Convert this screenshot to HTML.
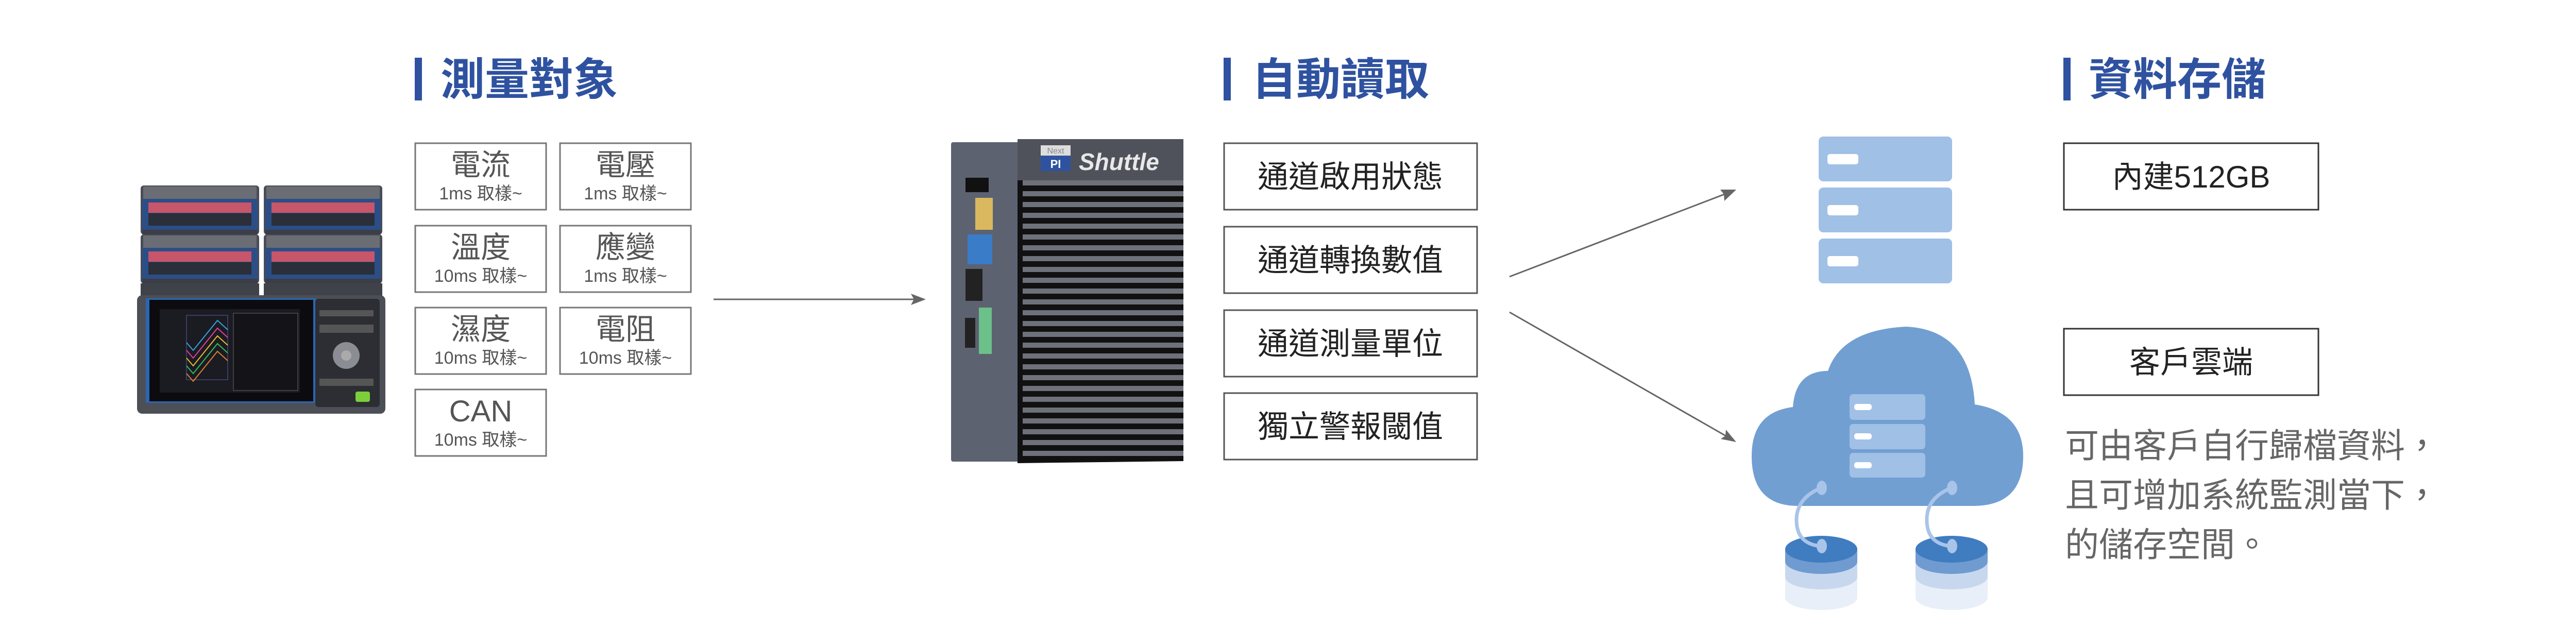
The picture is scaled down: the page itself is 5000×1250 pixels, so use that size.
<!DOCTYPE html>
<html><head><meta charset="utf-8">
<style>
html,body{margin:0;padding:0;background:#fff;}
body{width:5000px;height:1250px;overflow:hidden;}
svg{display:block;}
.t{font-family:"Liberation Sans","Noto Sans CJK TC",sans-serif;}
</style></head>
<body>
<svg width="5000" height="1250" viewBox="0 0 5000 1250" xmlns="http://www.w3.org/2000/svg">
<defs>
<marker id="ah" markerWidth="10" markerHeight="10" refX="8" refY="5" orient="auto" markerUnits="userSpaceOnUse" viewBox="0 0 10 10">
</marker>
</defs>
<g class="t">
<!-- Titles -->
<rect x="805" y="112" width="14" height="83" fill="#2f52a0"/>
<text x="855" y="184" font-size="86" font-weight="bold" fill="#2f52a0" font-family="Liberation Sans,Noto Sans CJK TC,sans-serif">測量對象</text>
<rect x="2375" y="112" width="14" height="83" fill="#2f52a0"/>
<text x="2430" y="184" font-size="86" font-weight="bold" fill="#2f52a0" font-family="Liberation Sans,Noto Sans CJK TC,sans-serif">自動讀取</text>
<rect x="4005" y="112" width="14" height="83" fill="#2f52a0"/>
<text x="4054" y="184" font-size="86" font-weight="bold" fill="#2f52a0" font-family="Liberation Sans,Noto Sans CJK TC,sans-serif">資料存儲</text>
</g>

<!-- measurement boxes -->
<g fill="#fff" stroke="#777" stroke-width="3">
<rect x="806" y="278" width="254" height="129"/>
<rect x="1087" y="278" width="254" height="129"/>
<rect x="806" y="438" width="254" height="129"/>
<rect x="1087" y="438" width="254" height="129"/>
<rect x="806" y="597" width="254" height="129"/>
<rect x="1087" y="597" width="254" height="129"/>
<rect x="806" y="756" width="254" height="129"/>
</g>
<g font-family="Liberation Sans,Noto Sans CJK TC,sans-serif" fill="#555" text-anchor="middle">
<text x="933" y="340" font-size="58">電流</text><text x="933" y="387" font-size="34">1ms 取樣~</text>
<text x="1214" y="340" font-size="58">電壓</text><text x="1214" y="387" font-size="34">1ms 取樣~</text>
<text x="933" y="500" font-size="58">溫度</text><text x="933" y="547" font-size="34">10ms 取樣~</text>
<text x="1214" y="500" font-size="58">應變</text><text x="1214" y="547" font-size="34">1ms 取樣~</text>
<text x="933" y="659" font-size="58">濕度</text><text x="933" y="706" font-size="34">10ms 取樣~</text>
<text x="1214" y="659" font-size="58">電阻</text><text x="1214" y="706" font-size="34">10ms 取樣~</text>
<text x="933" y="818" font-size="58">CAN</text><text x="933" y="865" font-size="34">10ms 取樣~</text>
</g>

<!-- Hioki device -->
<g>
<!-- modules -->
<g id="mod">
<rect x="273" y="360" width="230" height="95" rx="6" fill="#4a4d55"/>
<rect x="278" y="362" width="220" height="24" fill="#6a6d74"/>
<rect x="276" y="386" width="224" height="60" fill="#2c4e86"/>
<rect x="288" y="393" width="200" height="20" fill="#c8566a"/>
<rect x="288" y="414" width="200" height="24" fill="#2a2f3a"/>
<rect x="276" y="446" width="224" height="9" fill="#3b3e46"/>
</g>
<use href="#mod" x="239"/>
<use href="#mod" y="95"/>
<use href="#mod" x="239" y="95"/>
<rect x="273" y="550" width="230" height="25" fill="#3f4249"/>
<rect x="512" y="550" width="230" height="25" fill="#3f4249"/>
<!-- main unit -->
<rect x="266" y="573" width="482" height="230" rx="10" fill="#4c4f56"/>
<rect x="283" y="579" width="330" height="203" fill="#2b66b3"/>
<rect x="290" y="582" width="318" height="197" fill="#0c0c10"/>
<rect x="310" y="600" width="272" height="162" fill="#1b1b22"/>
<rect x="453" y="608" width="125" height="150" fill="#141418" stroke="#666" stroke-width="1"/>
<rect x="362" y="612" width="80" height="125" fill="none" stroke="#5560a0" stroke-width="1"/>
<polyline points="362,665 375,680 422,622 442,640" fill="none" stroke="#35a6e0" stroke-width="2"/>
<polyline points="362,680 375,695 422,637 442,655" fill="none" stroke="#e040a0" stroke-width="2"/>
<polyline points="362,695 375,710 422,652 442,670" fill="none" stroke="#e8c030" stroke-width="2"/>
<polyline points="362,710 375,725 422,667 442,685" fill="none" stroke="#30c060" stroke-width="2"/>
<polyline points="362,725 375,740 422,682 442,700" fill="none" stroke="#e08030" stroke-width="2"/>
<rect x="612" y="580" width="125" height="210" rx="6" fill="#2c2e33"/>
<circle cx="672" cy="690" r="26" fill="#8a8d94"/>
<circle cx="672" cy="690" r="10" fill="#aaa"/>
<rect x="690" y="760" width="28" height="20" rx="4" fill="#7ccf3a"/>
<rect x="620" y="602" width="105" height="12" fill="#555"/>
<rect x="620" y="630" width="105" height="16" fill="#555"/>
<rect x="620" y="735" width="105" height="14" fill="#555"/>
</g>

<!-- arrow 1 -->
<line x1="1385" y1="581" x2="1782" y2="581" stroke="#666" stroke-width="3"/>
<polygon points="1797,581 1768,570 1774,581 1768,592" fill="#666"/>

<!-- Shuttle device -->
<g>
<rect x="1846" y="276" width="135" height="620" rx="4" fill="#5c6270"/>
<path d="M1975,270 L2270,276 Q2297,280 2297,300 L2297,895 L1975,899 Z" fill="#111"/>
<rect x="1975" y="270" width="322" height="80" fill="#4f525a"/>
<g fill="#6e717a">
<rect x="1985" y="350" width="312" height="10"/><rect x="1985" y="371" width="312" height="10"/><rect x="1985" y="392" width="312" height="10"/><rect x="1985" y="413" width="312" height="10"/><rect x="1985" y="434" width="312" height="10"/><rect x="1985" y="455" width="312" height="10"/><rect x="1985" y="476" width="312" height="10"/><rect x="1985" y="497" width="312" height="10"/><rect x="1985" y="518" width="312" height="10"/><rect x="1985" y="539" width="312" height="10"/><rect x="1985" y="560" width="312" height="10"/><rect x="1985" y="581" width="312" height="10"/><rect x="1985" y="602" width="312" height="10"/><rect x="1985" y="623" width="312" height="10"/><rect x="1985" y="644" width="312" height="10"/><rect x="1985" y="665" width="312" height="10"/><rect x="1985" y="686" width="312" height="10"/><rect x="1985" y="707" width="312" height="10"/><rect x="1985" y="728" width="312" height="10"/><rect x="1985" y="749" width="312" height="10"/><rect x="1985" y="770" width="312" height="10"/><rect x="1985" y="791" width="312" height="10"/><rect x="1985" y="812" width="312" height="10"/><rect x="1985" y="833" width="312" height="10"/><rect x="1985" y="854" width="312" height="10"/><rect x="1985" y="875" width="312" height="10"/>
</g>
<rect x="2020" y="282" width="58" height="20" fill="#ddd"/>
<rect x="2020" y="302" width="58" height="30" fill="#2f52a0"/>
<text x="2049" y="298" font-size="16" fill="#888" text-anchor="middle" font-family="Liberation Sans,sans-serif">Next</text>
<text x="2049" y="326" font-size="22" font-weight="bold" fill="#fff" text-anchor="middle" font-family="Liberation Sans,sans-serif">PI</text>
<text x="2094" y="330" font-size="46" font-style="italic" font-weight="bold" fill="#e8e8e8" font-family="Liberation Sans,sans-serif">Shuttle</text>
<rect x="1874" y="345" width="45" height="28" fill="#111"/>
<rect x="1893" y="384" width="34" height="62" fill="#d9b860"/>
<rect x="1878" y="455" width="48" height="58" fill="#3a7cc8"/>
<rect x="1874" y="522" width="33" height="62" fill="#222"/>
<rect x="1900" y="597" width="25" height="90" fill="#6cc08a"/>
<rect x="1873" y="617" width="20" height="58" fill="#222"/>
</g>

<!-- process boxes -->
<g fill="#fff" stroke="#555" stroke-width="3">
<rect x="2376" y="278" width="491" height="129"/>
<rect x="2376" y="440" width="491" height="129"/>
<rect x="2376" y="602" width="491" height="129"/>
<rect x="2376" y="763" width="491" height="129"/>
</g>
<g font-family="Liberation Sans,Noto Sans CJK TC,sans-serif" fill="#222" text-anchor="middle" font-size="60">
<text x="2621" y="364">通道啟用狀態</text>
<text x="2621" y="526">通道轉換數值</text>
<text x="2621" y="688">通道測量單位</text>
<text x="2621" y="849">獨立警報閾值</text>
</g>

<!-- arrows to storage -->
<line x1="2930" y1="537" x2="3355" y2="374" stroke="#666" stroke-width="3"/>
<polygon points="3370,368 3339,368 3346,377 3347,390" fill="#666"/>
<line x1="2930" y1="606" x2="3355" y2="849" stroke="#666" stroke-width="3"/>
<polygon points="3370,858 3350,834 3349,846 3340,852" fill="#666"/>

<!-- server stack -->
<g fill="#a0c0e6">
<rect x="3530" y="265" width="259" height="87" rx="9"/>
<rect x="3530" y="364" width="259" height="87" rx="9"/>
<rect x="3530" y="463" width="259" height="87" rx="9"/>
</g>
<g fill="#fff">
<rect x="3547" y="299" width="60" height="20" rx="5"/>
<rect x="3547" y="398" width="60" height="20" rx="5"/>
<rect x="3547" y="497" width="60" height="20" rx="5"/>
</g>

<!-- cloud -->
<path d="M3490,982 Q3400,982 3400,885 Q3400,800 3480,790 Q3485,720 3548,720 Q3575,640 3700,634 Q3825,640 3833,785 Q3927,800 3927,885 Q3927,982 3830,982 Z" fill="#729fd2"/>
<g fill="#a0c0e6">
<rect x="3590" y="765" width="147" height="50" rx="7"/>
<rect x="3590" y="823" width="147" height="49" rx="7"/>
<rect x="3590" y="879" width="147" height="48" rx="7"/>
</g>
<g fill="#fff">
<rect x="3599" y="784" width="34" height="12" rx="5"/>
<rect x="3599" y="841" width="34" height="12" rx="5"/>
<rect x="3599" y="897" width="34" height="12" rx="5"/>
</g>
<!-- disks -->
<g>
<ellipse cx="3535" cy="1160" rx="70" ry="24" fill="#e8eff8"/>
<rect x="3465" y="1120" width="140" height="40" fill="#e8eff8"/>
<ellipse cx="3535" cy="1120" rx="70" ry="24" fill="#c7d8ee"/>
<rect x="3465" y="1090" width="140" height="30" fill="#c7d8ee"/>
<ellipse cx="3535" cy="1090" rx="70" ry="24" fill="#6f9bd0"/>
<rect x="3465" y="1066" width="140" height="24" fill="#6f9bd0"/>
<ellipse cx="3535" cy="1066" rx="70" ry="26" fill="#3f7cc0"/>
</g>
<g>
<ellipse cx="3788" cy="1160" rx="70" ry="24" fill="#e8eff8"/>
<rect x="3718" y="1120" width="140" height="40" fill="#e8eff8"/>
<ellipse cx="3788" cy="1120" rx="70" ry="24" fill="#c7d8ee"/>
<rect x="3718" y="1090" width="140" height="30" fill="#c7d8ee"/>
<ellipse cx="3788" cy="1090" rx="70" ry="24" fill="#6f9bd0"/>
<rect x="3718" y="1066" width="140" height="24" fill="#6f9bd0"/>
<ellipse cx="3788" cy="1066" rx="70" ry="26" fill="#3f7cc0"/>
</g>
<g fill="none" stroke="#a8c4e8" stroke-width="7">
<path d="M3535,947 Q3490,965 3487,1005 Q3485,1055 3533,1060"/>
<path d="M3788,947 Q3742,965 3740,1005 Q3738,1055 3786,1060"/>
</g>
<g fill="#a8c4e8">
<ellipse cx="3536" cy="947" rx="10" ry="14"/>
<ellipse cx="3789" cy="947" rx="10" ry="14"/>
<ellipse cx="3536" cy="1060" rx="10" ry="14"/>
<ellipse cx="3789" cy="1060" rx="10" ry="14"/>
</g>

<!-- storage boxes -->
<g fill="#fff" stroke="#333" stroke-width="3">
<rect x="4006" y="278" width="494" height="129"/>
<rect x="4006" y="638" width="494" height="129"/>
</g>
<g font-family="Liberation Sans,Noto Sans CJK TC,sans-serif" fill="#222" text-anchor="middle" font-size="60">
<text x="4253" y="364">內建512GB</text>
<text x="4253" y="724">客戶雲端</text>
</g>
<g font-family="Liberation Sans,Noto Sans CJK TC,sans-serif" fill="#666" font-size="66">
<text x="4008" y="888">可由客戶自行歸檔資料，</text>
<text x="4008" y="984">且可增加系統監測當下，</text>
<text x="4008" y="1080">的儲存空間。</text>
</g>
</svg>
</body></html>
